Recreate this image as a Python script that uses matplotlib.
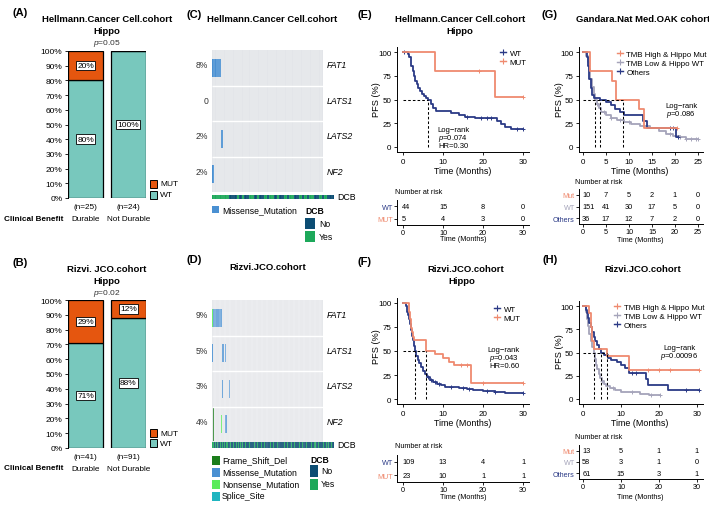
import numpy as np
import matplotlib
matplotlib.use("Agg")
import matplotlib.pyplot as plt
from matplotlib.patches import Rectangle
from matplotlib.lines import Line2D
from matplotlib import transforms

plt.rcParams["font.family"] = ["Liberation Sans", "DejaVu Sans"]
plt.rcParams["mathtext.fontset"] = "custom"
plt.rcParams["mathtext.it"] = "Liberation Sans:italic"
plt.rcParams["mathtext.rm"] = "Liberation Sans"

W, H = 709, 506

# colours
MUT_C = "#E5560F"
WT_C = "#78C8BD"
NAVY = "#2B3A86"
SALMON = "#EF8A6F"
GREY = "#A5A4BA"
MISSENSE = "#4A90D2"
FRAME = "#1B7D1B"
NONSENSE = "#5BEB5B"
SPLICE = "#1FB5C0"
DCB_NO = "#0C4D73"
DCB_YES = "#1DA85A"
CELL_BG = "#E3E5E9"

# ---- (A)/(B) stacked bars ----
BAR_GROUPS = ["Durable", "Not Durable"]
A_MUT = [0.20, 0.00]
A_WT = [0.80, 1.00]
A_N = [25, 24]
B_MUT = [0.29, 0.12]
B_WT = [0.71, 0.88]
B_N = [41, 91]

# ---- (C)/(D) oncoprints ----
GENES = ["FAT1", "LATS1", "LATS2", "NF2"]
C_PCT = ["8%", "0", "2%", "2%"]
C_N = 49
C_MUTS = [(0, 0, "Missense_Mutation"), (0, 1, "Missense_Mutation"),
          (0, 2, "Missense_Mutation"), (0, 3, "Missense_Mutation"),
          (2, 4, "Missense_Mutation"), (3, 0, "Missense_Mutation")]
C_DCB = [1, 1, 1, 1, 1, 1, 1, 0, 0, 0, 1, 0, 1, 0, 0, 1, 1, 0, 1, 0, 0, 1, 0, 1, 1,
         0, 1, 0, 0, 1, 0, 1, 1, 0, 0, 1, 0, 1, 0, 1, 1, 0, 0, 1, 0, 1, 0, 0, 0]

D_PCT = ["9%", "5%", "3%", "4%"]
D_N = 132
D_MUTS = [(0, 0, "Nonsense_Mutation")] + [(0, i, "Missense_Mutation") for i in range(1, 12)] + [
    (1, 0, "Missense_Mutation"), (1, 12, "Missense_Mutation"), (1, 13, "Missense_Mutation"),
    (1, 15, "Missense_Mutation"), (1, 16, "Missense_Mutation"), (1, 14, "Frame_Shift_Del"),
    (2, 12, "Missense_Mutation"), (2, 20, "Missense_Mutation"), (2, 21, "Missense_Mutation"),
    (3, 1, "Frame_Shift_Del"), (3, 11, "Nonsense_Mutation"), (3, 15, "Splice_Site"),
    (3, 16, "Missense_Mutation"), (3, 17, "Missense_Mutation")]
D_DCB = ("110101100101" "010110001001" "001010100100" "100010000100"
         "010001001000" "000100100010" "100000100100" "001001000010"
         "010000100001" "001100010000" "100100100100")
VAR_COLORS = {"Frame_Shift_Del": FRAME, "Missense_Mutation": MISSENSE,
              "Nonsense_Mutation": NONSENSE, "Splice_Site": SPLICE}

# ---- (E) Hellmann KM ----
E_WT_T = [0, 1.3, 1.6, 1.9, 2.1, 2.4, 2.7, 3.0, 3.4, 3.8, 4.3, 4.8, 5.2, 5.7, 6.2, 7.0, 7.6, 8.2,
          12.0, 14.0, 15.5, 18.0, 23.5, 24.5, 25.5, 27.0, 30.0]
E_WT_S = [100, 98, 95, 90, 85, 80, 75, 70, 66, 62, 59, 56, 54, 52, 50, 45, 41, 38,
          36, 34, 32, 30, 27, 24, 21, 19, 19]
E_WT_CENS = [0.2, 16, 19.5, 21, 22, 28.5, 30]
E_MUT_T = [0, 8, 23, 30]
E_MUT_S = [100, 80, 53, 53]
E_MUT_CENS = [19, 30]
E_MEDIANS = [6.2]
E_RISK = [[44, 15, 8, 0], [5, 4, 3, 0]]

# ---- (F) Rizvi KM ----
F_WT_T = [0, 0.7, 0.9, 1.1, 1.3, 1.5, 1.7, 2.0, 2.2, 2.4, 2.7, 3.0, 3.3, 3.7, 4.1, 4.5, 5.0,
          5.4, 6.0, 6.7, 7.5, 8.4, 9.5, 10.5, 12.0, 14.0, 16.0, 17.5, 20.0, 23.0, 25.5, 30.0]
F_WT_S = [100, 97, 94, 91, 87, 83, 78, 72, 66, 61, 55, 50, 45, 41, 37, 33, 29,
          26, 23, 20, 18, 16, 14.5, 13, 12, 11, 10, 9, 8, 7, 6, 6]
F_WT_CENS = [6.2, 7, 8, 9, 12, 15, 16.5, 21, 23, 30]
F_MUT_T = [0, 1.5, 1.7, 1.9, 2.2, 2.4, 2.8, 5.7, 8.0, 10.0, 11.4, 12.8, 17.0, 30.0]
F_MUT_S = [100, 91, 83, 74, 70, 65, 61, 50, 47, 43, 39, 35, 17, 17]
F_MUT_CENS = [14.5, 16, 20, 30]
F_MEDIANS = [3.0, 5.7]
F_RISK = [[109, 13, 4, 1], [23, 10, 1, 1]]

# ---- (G) OAK KM ----
G_MUT_T = [0, 1.5, 6.3, 7.2, 12.2, 13.3, 20.5]
G_MUT_S = [100, 80, 70, 50, 40, 20, 20]
G_MUT_CENS = [20.5]
G_WT_T = [0, 0.7, 1.0, 1.3, 1.6, 2.0, 2.3, 2.6, 3.0, 3.5, 4.0, 5.0, 6.0, 7.5, 9.0, 10.5, 12.5,
          14.5, 16.5, 18.0, 19.5, 21.0, 22.5, 25.0]
G_WT_S = [100, 96, 90, 82, 72, 63, 56, 50, 45, 41, 37, 34, 31, 28, 26, 24, 22,
          20, 17, 14, 12, 10, 8, 8]
G_WT_CENS = [3, 4.5, 6, 8, 10, 14, 19, 21, 22.5, 23.5, 24.5, 25]
G_OTH_T = [0, 0.8, 1.1, 1.4, 1.7, 2.0, 2.3, 3.7, 5.0, 6.0, 7.0, 8.0, 9.0, 13.0, 14.0, 20.2, 20.6]
G_OTH_S = [100, 95, 85, 72, 62, 55, 52, 50, 47, 44, 40, 37, 34, 27, 20, 10, 10]
G_OTH_CENS = [19, 19.5, 20.6]
G_MEDIANS = [2.6, 3.7, 8.7]
G_RISK = [[10, 7, 5, 2, 1, 0], [151, 41, 30, 17, 5, 0], [36, 17, 12, 7, 2, 0]]

# ---- (H) Rizvi three-group KM ----
H_MUT_T = [0, 1.5, 2.0, 2.5, 3.0, 6.3, 12.0, 30.5]
H_MUT_S = [100, 92, 77, 62, 54, 46, 31, 31]
H_MUT_CENS = [17, 20, 23, 30.5]
H_WT_T = [0, 0.8, 1.1, 1.4, 1.7, 2.0, 2.4, 2.9, 3.2, 3.5, 3.8, 4.2, 4.6, 5.0, 5.5, 6.0, 7.0,
          8.5, 10.0, 12.0, 15.0, 17.5, 20.2]
H_WT_S = [100, 94, 86, 78, 70, 62, 56, 50, 43, 37, 32, 27, 23, 19, 16, 14, 12,
          10, 8, 7, 5, 4, 4]
H_WT_CENS = [5, 8, 13, 18, 20.2]
H_OTH_T = [0, 0.8, 1.1, 1.4, 1.7, 2.0, 2.4, 2.8, 3.2, 3.7, 4.2, 4.7, 5.5, 6.5, 7.5, 9.0, 10.0,
           11.0, 12.0, 16.5, 17.0, 22.5, 30.5]
H_OTH_S = [100, 96, 92, 87, 82, 77, 72, 67, 62, 58, 54, 50, 47, 44, 42, 40, 37,
           33, 28, 22, 15, 10, 10]
H_OTH_CENS = [13, 14, 27, 30.5]
H_MEDIANS = [2.9, 4.7, 6.3]
H_RISK = [[13, 5, 1, 1], [58, 3, 1, 0], [61, 15, 3, 1]]

fig = plt.figure(figsize=(W / 100, H / 100), dpi=100)


def fbox(l, t, r, b):
    return [l / W, 1 - b / H, (r - l) / W, (b - t) / H]


def ftext(x, y, s, **kw):
    kw.setdefault("ha", "center")
    kw.setdefault("va", "center")
    kw.setdefault("fontsize", 6)
    fig.text(x / W, 1 - y / H, s, **kw)


def fsquare(l, t, r, b, color, edge="none"):
    fig.add_artist(Rectangle((l / W, 1 - b / H), (r - l) / W, (b - t) / H,
                             transform=fig.transFigure, facecolor=color,
                             edgecolor=edge, lw=0.7))


def style_axes(ax, size=6):
    for side in ["top", "right"]:
        ax.spines[side].set_visible(False)
    for side in ["left", "bottom"]:
        ax.spines[side].set_linewidth(0.7)
    ax.tick_params(length=2.5, width=0.6, labelsize=size, pad=1.5)


def bar_panel(rect, mut, wt, ns):
    ax = fig.add_axes(fbox(*rect))
    x = np.arange(len(mut))
    ax.bar(x, wt, width=0.83, color=WT_C, edgecolor="black", lw=0.9)
    ax.bar(x, mut, bottom=wt, width=0.83, color=MUT_C, edgecolor="black", lw=0.9)
    box = dict(boxstyle="square,pad=0.15", fc="white", ec="black", lw=0.6)
    for i in x:
        if mut[i] > 0:
            ax.text(i, wt[i] + mut[i] / 2, f"{mut[i] * 100:.0f}%", ha="center",
                    va="center", fontsize=6, bbox=box)
        ax.text(i, wt[i] / 2, f"{wt[i] * 100:.0f}%", ha="center", va="center",
                fontsize=6, bbox=box)
        ax.text(i, -0.035, f"(n={ns[i]})", transform=ax.get_xaxis_transform(),
                ha="center", va="top", fontsize=5.9)
        ax.text(i, -0.115, BAR_GROUPS[i], transform=ax.get_xaxis_transform(),
                ha="center", va="top", fontsize=5.9)
    ax.set_xlim(-0.415, 1.415)
    ax.set_ylim(0, 1)
    ticks = np.linspace(0, 1, 11)
    ax.set_yticks(ticks, [f"{t * 100:.0f}%" for t in ticks])
    style_axes(ax, 6)
    ax.spines["bottom"].set_visible(False)
    ax.set_xticks([])
    return ax


def onco_panel(grid_rect, dcb_rect, n, muts, pct, dcb):
    ax = fig.add_axes(fbox(*grid_rect))
    ax.add_patch(Rectangle((0, 0), n, 4, color=CELL_BG, lw=0))
    for row, idx, kind in muts:
        if kind == "Frame_Shift_Del":
            ax.bar(idx + 0.5, 0.96, bottom=row + 0.02, width=0.7, color=VAR_COLORS[kind], lw=0)
        else:
            ax.bar(idx + 0.5, 0.5, bottom=row + 0.25, width=1, color=VAR_COLORS[kind], lw=0)
    ax.vlines(np.arange(1, n), 0, 4, color="white", lw=0.25, alpha=0.7)
    ax.hlines([1, 2, 3], 0, n, color="white", lw=1.0)
    ax.set_xlim(0, n)
    ax.set_ylim(4, 0)
    ax.axis("off")
    tr = transforms.blended_transform_factory(ax.transAxes, ax.transData)
    for r in range(4):
        ax.text(-0.035, r + 0.42, pct[r], transform=tr, ha="right", va="center",
                fontsize=6.2, color="#333333")
        ax.text(1.03, r + 0.42, GENES[r], transform=tr, ha="left", va="center",
                fontsize=6.3, style="italic")
    dax = fig.add_axes(fbox(*dcb_rect))
    cols = [DCB_YES if int(v) else DCB_NO for v in dcb]
    dax.bar(np.arange(len(dcb)) + 0.5, 1, width=1, color=cols, lw=0)
    dax.vlines(np.arange(1, len(dcb)), 0, 1, color="white", lw=0.2, alpha=0.5)
    dax.set_xlim(0, len(dcb))
    dax.set_ylim(0, 1)
    dax.axis("off")
    dax.text(1.025, 0.5, "DCB", transform=dax.transAxes, ha="left", va="center", fontsize=6.3)


def surv_at(t, s, cens):
    idx = np.searchsorted(t, cens, side="right") - 1
    return np.asarray(s)[idx]


def km_panel(rect, curves, medians, xticks, xlim, ylim):
    ax = fig.add_axes(fbox(*rect))
    for t, s, cens, col in curves:
        ax.step(t, s, where="post", color=col, lw=1.3)
        ax.plot(cens, surv_at(t, s, cens), ls="none", marker="+", ms=3.5,
                mew=0.7, color=col)
    ax.plot([0, max(medians)], [50, 50], color="black", ls=(0, (2.5, 2)), lw=0.75)
    for m in medians:
        ax.plot([m, m], [0, 50], color="black", ls=(0, (2.5, 2)), lw=0.75)
    ax.set_xlim(*xlim)
    ax.set_ylim(*ylim)
    ax.set_xticks(xticks)
    ax.set_yticks([0, 25, 50, 75, 100])
    style_axes(ax, 5.8)
    return ax


def km_legend(ax, labels, colors, x, y):
    handles = [Line2D([0], [0], color=c, marker="+", lw=1, ms=4, mew=0.8) for c in colors]
    ax.legend(handles, labels, loc="upper left", bbox_to_anchor=(x / W, 1 - y / H),
              bbox_transform=fig.transFigure, frameon=False, fontsize=5.7,
              handlelength=0.8, handletextpad=0.4, labelspacing=0.2,
              borderpad=0, borderaxespad=0)


def risk_panel(rect, rows, labels, colors, xticks, xlim):
    ax = fig.add_axes(fbox(*rect))
    nrow = len(rows)
    for i, vals in enumerate(rows):
        y = nrow - 1 - i
        for xt, v in zip(xticks, vals):
            if xt == 0:
                ax.text(xt - 0.2, y, str(v), ha="left", va="center", fontsize=5.3)
            else:
                ax.text(xt, y, str(v), ha="center", va="center", fontsize=5.3)
    ax.set_ylim(-0.5, nrow - 0.5)
    ax.set_xlim(*xlim)
    ax.set_xticks(xticks)
    ax.set_yticks(range(nrow), labels[::-1])
    for lab, c in zip(ax.get_yticklabels(), colors[::-1]):
        lab.set_color(c)
    style_axes(ax, 5.2)
    ax.tick_params(length=2, pad=1)
    return ax


# ---------- (A) ----------
ftext(20, 13, "(A)", fontsize=8, fontweight="bold")
ftext(107, 20, "Hellmann.Cancer Cell.cohort", fontweight="bold", fontsize=6.8)
ftext(107, 32, "Hippo", fontweight="bold", fontsize=6.8)
ftext(107, 44, "$p$=0.05", fontsize=6, color="#333333")
bar_panel((68, 52, 146, 199), A_MUT, A_WT, A_N)
ftext(63, 220, "Clinical Benefit", ha="right", fontweight="bold", fontsize=5.9)
fsquare(150, 181, 157, 189, MUT_C, "black")
fsquare(150, 192, 157, 200, WT_C, "black")
ftext(160, 185, "MUT", ha="left")
ftext(160, 196, "WT", ha="left")

# ---------- (B) ----------
ftext(20, 263, "(B)", fontsize=8, fontweight="bold")
ftext(107, 270, "Rizvi. JCO.cohort", fontweight="bold", fontsize=6.8)
ftext(107, 282, "Hippo", fontweight="bold", fontsize=6.8)
ftext(107, 294, "$p$=0.02", fontsize=6, color="#333333")
bar_panel((68, 301, 146, 449), B_MUT, B_WT, B_N)
ftext(63, 469, "Clinical Benefit", ha="right", fontweight="bold", fontsize=5.9)
fsquare(150, 430, 157, 438, MUT_C, "black")
fsquare(150, 440, 157, 448, WT_C, "black")
ftext(160, 434, "MUT", ha="left")
ftext(160, 444, "WT", ha="left")

# ---------- (C) ----------
ftext(194, 15, "(C)", fontsize=8, fontweight="bold")
ftext(272, 20, "Hellmann.Cancer Cell.cohort", fontweight="bold", fontsize=6.8)
onco_panel((212, 51, 323, 193), (212, 196, 334, 200), C_N, C_MUTS, C_PCT, C_DCB)
fsquare(212, 207, 219, 214, MISSENSE)
ftext(222, 211, "Missense_Mutation", ha="left", fontsize=6.2)
ftext(305, 212, "DCB", ha="left", fontweight="bold", fontsize=6.2)
fsquare(305, 219, 315, 230, DCB_NO)
fsquare(305, 232, 315, 243, DCB_YES)
ftext(319, 225, "No", ha="left", fontsize=6.2)
ftext(319, 238, "Yes", ha="left", fontsize=6.2)

# ---------- (D) ----------
ftext(194, 260, "(D)", fontsize=8, fontweight="bold")
ftext(268, 268, "Rizvi.JCO.cohort", fontweight="bold", fontsize=6.8)
onco_panel((212, 301, 323, 443), (212, 443, 334, 449), D_N, D_MUTS, D_PCT, D_DCB)
for i, (name, col) in enumerate(VAR_COLORS.items()):
    y = 461 + i * 12
    fsquare(212, y - 4.5, 220, y + 4.5, col)
    ftext(222, y, name, ha="left", fontsize=6.2)
ftext(310, 461, "DCB", ha="left", fontweight="bold", fontsize=6.2)
fsquare(310, 466, 318, 478, DCB_NO)
fsquare(310, 480, 318, 491, DCB_YES)
ftext(321, 472, "No", ha="left", fontsize=6.2)
ftext(321, 485, "Yes", ha="left", fontsize=6.2)

# ---------- (E) ----------
ftext(365, 15, "(E)", fontsize=8, fontweight="bold")
ftext(460, 19, "Hellmann.Cancer Cell.cohort", fontweight="bold", fontsize=6.8)
ftext(460, 32, "Hippo", fontweight="bold", fontsize=6.8)
ax = km_panel((397, 48, 529, 153),
              [(E_WT_T, E_WT_S, E_WT_CENS, NAVY), (E_MUT_T, E_MUT_S, E_MUT_CENS, SALMON)],
              E_MEDIANS, [0, 10, 20, 30], (-1.5, 31.5), (-5.3, 105.3))
km_legend(ax, ["WT", "MUT"], [NAVY, SALMON], 500, 50)
ftext(453, 130, "Log\u2212rank", fontsize=5.5)
ftext(453, 138, "$p$=0.074", fontsize=5.5)
ftext(453, 147, "HR=0.30", fontsize=5.5)
ftext(377, 100, "PFS (%)", rotation=90, fontsize=6.6)
ftext(463, 172, "Time (Months)", fontsize=6.4)
ftext(395, 192, "Number at risk", ha="left", fontsize=5.2)
risk_panel((397, 201, 529, 226), E_RISK, ["WT", "MUT"], [NAVY, SALMON],
           [0, 10, 20, 30], (-1.5, 31.5))
ftext(463, 240, "Time (Months)", fontsize=5.2)

# ---------- (F) ----------
ftext(365, 262, "(F)", fontsize=8, fontweight="bold")
ftext(466, 269, "Rizvi.JCO.cohort", fontweight="bold", fontsize=6.8)
ftext(462, 282, "Hippo", fontweight="bold", fontsize=6.8)
ax = km_panel((397, 299, 529, 405),
              [(F_WT_T, F_WT_S, F_WT_CENS, NAVY), (F_MUT_T, F_MUT_S, F_MUT_CENS, SALMON)],
              F_MEDIANS, [0, 10, 20, 30], (-1.5, 31.5), (-5.2, 105.2))
km_legend(ax, ["WT", "MUT"], [NAVY, SALMON], 494, 306)
ftext(504, 350, "Log\u2212rank", fontsize=5.5)
ftext(504, 358, "$p$=0.043", fontsize=5.5)
ftext(504, 367, "HR=0.60", fontsize=5.5)
ftext(377, 347, "PFS (%)", rotation=90, fontsize=6.6)
ftext(463, 424, "Time (Months)", fontsize=6.4)
ftext(395, 447, "Number at risk", ha="left", fontsize=5.2)
risk_panel((397, 456, 529, 483), F_RISK, ["WT", "MUT"], [NAVY, SALMON],
           [0, 10, 20, 30], (-1.5, 31.5))
ftext(463, 498, "Time (Months)", fontsize=5.2)

# ---------- (G) ----------
ftext(550, 15, "(G)", fontsize=8, fontweight="bold")
ftext(643, 19, "Gandara.Nat Med.OAK cohort", fontweight="bold", fontsize=6.8)
ax = km_panel((579, 48, 703, 153),
              [(G_WT_T, G_WT_S, G_WT_CENS, GREY), (G_OTH_T, G_OTH_S, G_OTH_CENS, NAVY),
               (G_MUT_T, G_MUT_S, G_MUT_CENS, SALMON)],
              G_MEDIANS, [0, 5, 10, 15, 20, 25], (-0.87, 26.1), (-5.3, 105.3))
km_legend(ax, ["TMB High & Hippo Mut", "TMB Low & Hippo WT", "Others"],
          [SALMON, GREY, NAVY], 617, 51)
ftext(681, 106, "Log\u2212rank", fontsize=5.5)
ftext(681, 114, "$p$=0.086", fontsize=5.5)
ftext(560, 100, "PFS (%)", rotation=90, fontsize=6.6)
ftext(640, 172, "Time (Months)", fontsize=6.4)
ftext(575, 183, "Number at risk", ha="left", fontsize=5.2)
risk_panel((579, 190, 703, 225), G_RISK, ["Mut", "WT", "Others"], [SALMON, GREY, NAVY],
           [0, 5, 10, 15, 20, 25], (-0.87, 26.1))
ftext(640, 241, "Time (Months)", fontsize=5.2)

# ---------- (H) ----------
ftext(550, 260, "(H)", fontsize=8, fontweight="bold")
ftext(643, 269, "Rizvi.JCO.cohort", fontweight="bold", fontsize=6.8)
ax = km_panel((579, 302, 703, 405),
              [(H_WT_T, H_WT_S, H_WT_CENS, GREY), (H_OTH_T, H_OTH_S, H_OTH_CENS, NAVY),
               (H_MUT_T, H_MUT_S, H_MUT_CENS, SALMON)],
              H_MEDIANS, [0, 10, 20, 30], (-1.05, 31.6), (-5.4, 105.4))
km_legend(ax, ["TMB High & Hippo Mut", "TMB Low & Hippo WT", "Others"],
          [SALMON, GREY, NAVY], 614, 304)
ftext(679, 349, "Log\u2212rank", fontsize=5.5)
ftext(679, 357, "$p$=0.00096", fontsize=5.5)
ftext(560, 352, "PFS (%)", rotation=90, fontsize=6.6)
ftext(640, 424, "Time (Months)", fontsize=6.4)
ftext(575, 438, "Number at risk", ha="left", fontsize=5.2)
risk_panel((579, 446, 703, 480), H_RISK, ["Mut", "WT", "Others"], [SALMON, GREY, NAVY],
           [0, 10, 20, 30], (-1.05, 31.6))
ftext(640, 498, "Time (Months)", fontsize=5.2)

fig.savefig("out.png", dpi=100)
